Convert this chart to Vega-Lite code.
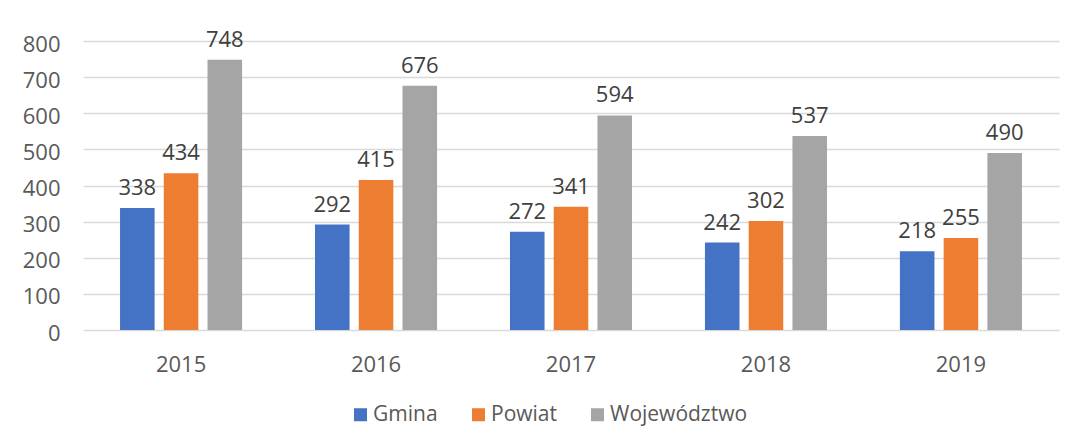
{
  "$schema": "https://vega.github.io/schema/vega-lite/v6.json",
  "autosize": {"type": "none"},
  "width": 976,
  "height": 289,
  "padding": {"left": 83, "top": 41, "right": 15, "bottom": 116},
  "background": "white",
  "data": {"values": [
    {"rok": "2015", "seria": "Gmina", "wartosc": 338},
    {"rok": "2015", "seria": "Powiat", "wartosc": 434},
    {"rok": "2015", "seria": "Województwo", "wartosc": 748},
    {"rok": "2016", "seria": "Gmina", "wartosc": 292},
    {"rok": "2016", "seria": "Powiat", "wartosc": 415},
    {"rok": "2016", "seria": "Województwo", "wartosc": 676},
    {"rok": "2017", "seria": "Gmina", "wartosc": 272},
    {"rok": "2017", "seria": "Powiat", "wartosc": 341},
    {"rok": "2017", "seria": "Województwo", "wartosc": 594},
    {"rok": "2018", "seria": "Gmina", "wartosc": 242},
    {"rok": "2018", "seria": "Powiat", "wartosc": 302},
    {"rok": "2018", "seria": "Województwo", "wartosc": 537},
    {"rok": "2019", "seria": "Gmina", "wartosc": 218},
    {"rok": "2019", "seria": "Powiat", "wartosc": 255},
    {"rok": "2019", "seria": "Województwo", "wartosc": 490}
  ]},
  "encoding": {
    "x": {
      "field": "rok", "type": "nominal",
      "scale": {"paddingInner": 0.374, "paddingOuter": 0.19},
      "axis": {"title": null, "labelAngle": 0, "ticks": false, "domain": false, "labelPadding": 24, "labelFontSize": 22, "labelColor": "#595959", "labelFont": "Open Sans"}
    },
    "xOffset": {
      "field": "seria", "type": "nominal",
      "sort": ["Gmina", "Powiat", "Województwo"],
      "scale": {"paddingInner": 0.21, "paddingOuter": 0}
    },
    "y": {
      "field": "wartosc", "type": "quantitative",
      "scale": {"domain": [0, 800], "nice": false},
      "axis": {"title": null, "values": [0,100,200,300,400,500,600,700,800], "ticks": false, "domain": false, "labelPadding": 23, "labelOffset": 3, "labelFontSize": 22, "labelColor": "#595959", "labelFont": "Open Sans", "gridColor": "#d9d9d9", "gridWidth": 1.3}
    }
  },
  "layer": [
    {
      "mark": {"type": "bar"},
      "encoding": {
        "color": {
          "field": "seria", "type": "nominal",
          "scale": {"domain": ["Gmina", "Powiat", "Województwo"], "range": ["#4472C4", "#ED7D31", "#A5A5A5"]},
          "legend": {
            "title": null, "orient": "none", "direction": "horizontal",
            "legendX": 267, "legendY": 363,
            "symbolType": "square", "symbolSize": 169, "symbolStrokeWidth": 0,
            "labelFontSize": 21, "labelColor": "#595959", "labelFont": "Open Sans",
            "columnPadding": 30, "labelOffset": 2
          }
        }
      }
    },
    {
      "mark": {"type": "text", "baseline": "alphabetic", "dy": -13, "fontSize": 22, "color": "#404040", "font": "Open Sans"},
      "encoding": {"text": {"field": "wartosc", "type": "quantitative"}}
    }
  ],
  "config": {"view": {"stroke": null}}
}
